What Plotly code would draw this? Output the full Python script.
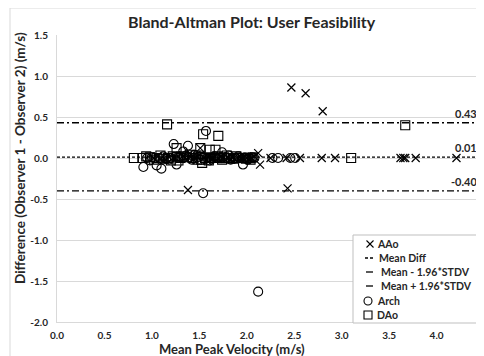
import plotly.graph_objects as go

# AAo
aao_x = [2.47, 2.62, 2.80, 1.38, 2.43, 2.12, 2.14, 1.51,
         2.25, 2.42, 2.56, 2.79, 2.93, 3.62, 3.65, 3.67, 3.78, 4.21,
         1.02, 1.10, 1.18, 1.25, 1.30, 1.35, 1.40, 1.45, 1.55, 1.60, 1.65,
         1.70, 1.75, 1.80, 1.85, 1.90, 1.95, 2.00, 2.05,
         1.06, 1.14, 1.22, 1.33, 1.43, 1.48, 1.58, 1.63, 1.73, 1.83, 1.93, 2.03, 2.08]
aao_y = [0.86, 0.79, 0.57, -0.39, -0.37, 0.06, -0.08, 0.12,
         0.00, 0.00, 0.00, 0.00, 0.00, 0.00, 0.00, 0.00, 0.00, 0.00,
         0.00, 0.00, 0.01, 0.00, -0.01, 0.00, 0.02, 0.00, 0.00, 0.01, 0.00,
         -0.01, 0.00, 0.00, 0.01, 0.00, 0.00, 0.00, 0.00,
         0.02, -0.02, 0.00, 0.03, -0.01, 0.02, -0.03, 0.00, 0.02, -0.02, 0.01, -0.01, 0.02]

# Arch
arch_x = [1.57, 1.23, 1.38, 0.91, 1.05, 1.10, 1.26, 1.96, 1.54, 2.12, 1.74,
          2.27, 2.33, 2.46, 2.51,
          0.95, 1.00, 1.08, 1.15, 1.20, 1.28, 1.33, 1.42, 1.47, 1.52, 1.58,
          1.63, 1.68, 1.72, 1.78, 1.83, 1.88, 1.93, 1.98, 2.03, 2.08, 1.33,
          0.98, 1.12, 1.18, 1.36, 1.45, 1.61, 1.66, 1.81, 1.86, 1.91, 2.01, 2.06]
arch_y = [0.33, 0.17, 0.15, -0.11, -0.09, -0.13, -0.08, -0.08, -0.43, -1.63, 0.07,
          0.00, 0.00, 0.00, 0.00,
          0.00, 0.01, 0.00, -0.01, 0.00, 0.02, 0.00, -0.02, 0.00, 0.03, 0.00,
          -0.01, 0.00, 0.01, 0.00, -0.02, 0.00, 0.00, 0.01, 0.00, 0.00, 0.08,
          -0.03, 0.02, -0.02, 0.03, 0.04, -0.03, 0.02, 0.03, -0.01, 0.02, -0.02, 0.01]

# DAo
dao_x = [1.16, 1.54, 1.70, 1.26, 1.61, 1.67, 1.51, 0.81, 1.53, 3.10, 3.67,
         0.90, 0.98, 1.05, 1.12, 1.17, 1.22, 1.30, 1.37, 1.43, 1.48, 1.56,
         1.62, 1.66, 1.71, 1.76, 1.81, 1.86, 1.91, 1.96, 2.01, 2.06, 1.40, 1.28, 1.60,
         0.94, 1.02, 1.09, 1.20, 1.34, 1.46, 1.52, 1.69, 1.74, 1.79, 1.89, 1.99, 2.04]
dao_y = [0.41, 0.29, 0.27, 0.12, 0.10, 0.10, 0.12, 0.00, -0.06, 0.00, 0.40,
         0.00, 0.01, 0.00, -0.01, 0.00, 0.02, 0.00, 0.01, 0.00, -0.02, 0.00,
         0.01, 0.00, 0.00, 0.01, 0.00, -0.01, 0.00, 0.00, 0.00, 0.01, 0.04, -0.03, -0.03,
         0.02, -0.02, 0.03, -0.03, 0.02, 0.03, -0.02, 0.02, -0.02, 0.03, 0.02, -0.01, -0.02]

line_x = [0.0, 4.5]
mean_diff = 0.01
lower_loa = -0.40
upper_loa = 0.43

legend_labels = ["AAo", "Mean Diff", "Mean - 1.96*STDV", "Mean + 1.96*STDV", "Arch", "DAo"]

FONT = "Lato"
BLACK = "#000000"
TXT = "#262626"
DASH_MEAN = "3px,2px"
DASH_LOA = "7px,3px,2px,3px"

# page offset (body margin) is 8px; plot area in page pixels: x 57..484, y 35..322
OFF = 8
W, H = 484 - OFF, 356 - OFF
L, R, T, B = 57, 484, 35, 322
def px(xp):
    return (xp - L) / (R - L)
def py(yp):
    return (B - yp) / (B - T)

fig = go.Figure()
fig.add_trace(go.Scatter(x=aao_x, y=aao_y, mode="markers", name=legend_labels[0],
                         marker=dict(symbol="x-thin-open", size=8, color=BLACK,
                                     line=dict(color=BLACK, width=1.2))))
fig.add_trace(go.Scatter(x=line_x, y=[mean_diff, mean_diff], mode="lines", name=legend_labels[1],
                         line=dict(color=BLACK, width=1.3, dash=DASH_MEAN)))
fig.add_trace(go.Scatter(x=line_x, y=[lower_loa, lower_loa], mode="lines",
                         name=legend_labels[2],
                         line=dict(color=BLACK, width=1.3, dash=DASH_LOA)))
fig.add_trace(go.Scatter(x=line_x, y=[upper_loa, upper_loa], mode="lines",
                         name=legend_labels[3],
                         line=dict(color=BLACK, width=1.3, dash=DASH_LOA)))
fig.add_trace(go.Scatter(x=arch_x, y=arch_y, mode="markers", name=legend_labels[4],
                         marker=dict(symbol="circle-open", size=9, color=BLACK,
                                     line=dict(color=BLACK, width=1.1))))
fig.add_trace(go.Scatter(x=dao_x, y=dao_y, mode="markers", name=legend_labels[5],
                         marker=dict(symbol="square-open", size=9, color=BLACK,
                                     line=dict(color=BLACK, width=1.1))))

for val, txt in [(upper_loa, "0.43"), (mean_diff, "0.01"), (lower_loa, "-0.40")]:
    fig.add_annotation(x=4.45, y=val, text="<b>%s</b>" % txt, showarrow=False,
                       xanchor="right", yanchor="bottom", yshift=1,
                       font=dict(family=FONT, size=11, color=TXT))

fig.add_annotation(xref="paper", yref="paper", x=px(232), y=py(349),
                   text="<b>Mean Peak Velocity (m/s)</b>", showarrow=False,
                   xanchor="center", yanchor="middle",
                   font=dict(family=FONT, size=13, color=TXT))
fig.add_annotation(xref="paper", yref="paper", x=px(20), y=py(158),
                   text="<b>Difference (Observer 1 - Observer 2) (m/s)</b>", showarrow=False,
                   textangle=-90, xanchor="center", yanchor="middle",
                   font=dict(family=FONT, size=13.5, color=TXT))
fig.add_annotation(xref="paper", yref="paper", x=px(252), y=py(22),
                   text="<b>Bland-Altman Plot: User Feasibility</b>", showarrow=False,
                   xanchor="center", yanchor="middle",
                   font=dict(family=FONT, size=16, color=TXT))

# chart-area border
fig.add_shape(type="rect", xref="paper", yref="paper",
              x0=px(10), x1=px(520), y0=py(400), y1=py(8),
              line=dict(color="#d9d9d9", width=1), fillcolor="rgba(0,0,0,0)", layer="below")

# custom compact legend
fig.add_shape(type="rect", xref="paper", yref="paper",
              x0=px(353), x1=px(520), y0=py(323), y1=py(235),
              line=dict(color="#bfbfbf", width=1), fillcolor="white", layer="above")
rows = [244, 258, 272, 286, 301, 315]
cx, cy, h = 370, rows[0], 3.5
fig.add_shape(type="line", xref="paper", yref="paper", x0=px(cx - h), x1=px(cx + h),
              y0=py(cy - h), y1=py(cy + h), line=dict(color=BLACK, width=1.1))
fig.add_shape(type="line", xref="paper", yref="paper", x0=px(cx - h), x1=px(cx + h),
              y0=py(cy + h), y1=py(cy - h), line=dict(color=BLACK, width=1.1))
fig.add_shape(type="line", xref="paper", yref="paper", x0=px(365), x1=px(375),
              y0=py(rows[1]), y1=py(rows[1]), line=dict(color=BLACK, width=1.3, dash=DASH_MEAN))
for r in (rows[2], rows[3]):
    fig.add_shape(type="line", xref="paper", yref="paper", x0=px(366), x1=px(376),
                  y0=py(r), y1=py(r), line=dict(color=BLACK, width=1.3, dash=DASH_LOA))
fig.add_shape(type="circle", xref="paper", yref="paper", x0=px(364), x1=px(372),
              y0=py(rows[4] + 4), y1=py(rows[4] - 4), line=dict(color=BLACK, width=1.1))
fig.add_shape(type="rect", xref="paper", yref="paper", x0=px(364), x1=px(372),
              y0=py(rows[5] + 4), y1=py(rows[5] - 4), line=dict(color=BLACK, width=1.1))
text_x = [375, 377, 379, 379, 375, 375]
for lbl, r, tx in zip(legend_labels, rows, text_x):
    fig.add_annotation(xref="paper", yref="paper", x=px(tx), y=py(r),
                       text="<b>%s</b>" % lbl, showarrow=False,
                       xanchor="left", yanchor="middle",
                       font=dict(family=FONT, size=10.5, color=TXT))

fig.update_layout(
    width=W, height=H,
    margin=dict(l=L - OFF, r=0, t=T - OFF, b=H - (B - OFF)),
    paper_bgcolor="white", plot_bgcolor="white",
    showlegend=False,
    font=dict(family=FONT),
)
xt = [0, 0.5, 1, 1.5, 2, 2.5, 3, 3.5, 4, 4.5]
yt = [-2, -1.5, -1, -0.5, 0, 0.5, 1, 1.5]
fig.update_xaxes(range=[0, 4.5], tickvals=xt,
                 ticktext=["<b>%.1f</b>" % v for v in xt], automargin=False,
                 ticklabeloverflow="allow", ticklabelstandoff=4,
                 showgrid=False, zeroline=False, showline=True, linecolor="#d9d9d9",
                 ticks="", tickfont=dict(family=FONT, size=10, color=TXT))
fig.update_yaxes(range=[-2.0, 1.5], tickvals=yt,
                 ticktext=["<b>%.1f</b>" % v for v in yt], automargin=False,
                 showgrid=True, gridcolor="#d9d9d9", zeroline=False, showline=True,
                 linecolor="#d9d9d9", ticks="", ticklabelstandoff=6,
                 tickfont=dict(family=FONT, size=10, color=TXT))

fig.write_html("out.html")
